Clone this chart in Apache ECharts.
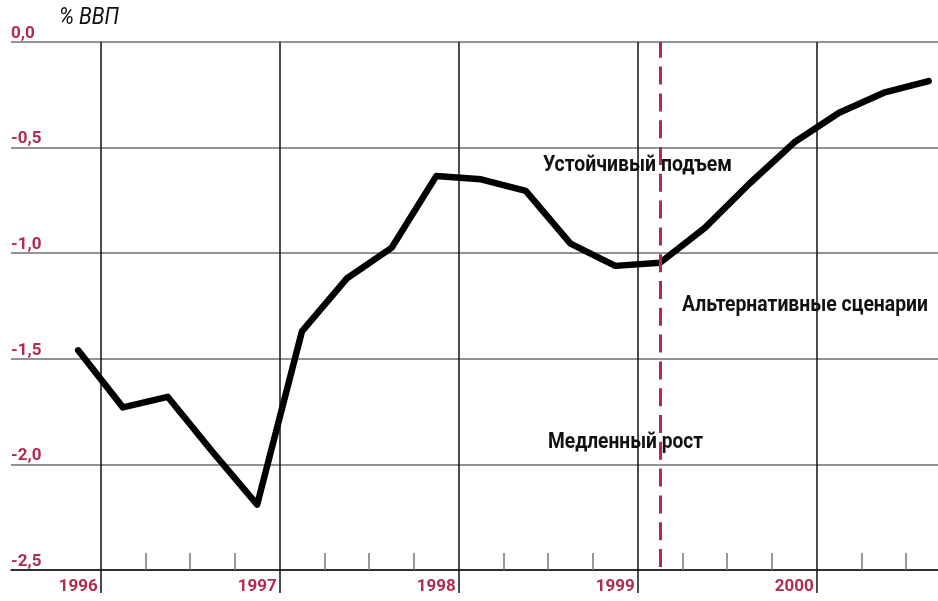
<!DOCTYPE html>
<html>
<head>
<meta charset="utf-8">
<script src="https://cdn.jsdelivr.net/npm/echarts@6/dist/echarts.min.js"></script>
<style>html,body{margin:0;padding:0;background:#fff;overflow:hidden;width:938px;height:601px;}#c{width:951px;height:601px;}</style>
</head>
<body>
<div id="c"></div>
<script>
// Quarterly labels (year shown at first quarter of each year group)
const quarters = ['1996','','','','1997','','','','1998','','','','1999','','','','2000','','',''];
// Budget balance, % of GDP
const values = [-1.46,-1.73,-1.68,-1.94,-2.19,-1.37,-1.12,-0.975,-0.635,-0.65,-0.705,-0.955,-1.06,-1.045,-0.88,-0.67,-0.475,-0.335,-0.24,-0.185];
const yTicks = ['0,0','-0,5','-1,0','-1,5','-2,0','-2,5'];
const scenarioIndex = 13; // dashed separator at this quarter
const annotations = ['Устойчивый подъем','Альтернативные сценарии','Медленный рост'];
const yTitle = '% ВВП';

const RED = '#b12b4d';
const FONT = "Roboto, 'Liberation Sans', sans-serif";

// one padding category before the data
const cats = [''].concat(quarters);
const data = [null].concat(values);
const isYear = i => i >= 2 && (i - 2) % 4 === 0;

// horizontal compression to imitate the condensed typeface
const mctx = document.createElement('canvas').getContext('2d');
function fit(text, font, target) { mctx.font = font; return target / mctx.measureText(text).width; }
function condText(text, x, y, size, weight, style, targetW) {
  const font = style + ' ' + weight + ' ' + size + 'px Roboto';
  return {type: 'text', x: x, y: y, z: 10, scaleX: fit(text, font, targetW), scaleY: 1,
    style: {text: text, align: 'center', verticalAlign: 'middle', fontFamily: FONT, fontWeight: weight, fontStyle: style, fontSize: size, fill: '#111'}};
}

const gridBox = {left: 11, top: 42, bottom: 31, right: 0, containLabel: false};
const chart = echarts.init(document.getElementById('c'), null, {renderer: 'canvas'});
chart.setOption({
  animation: false,
  backgroundColor: '#fff',
  grid: [Object.assign({}, gridBox), Object.assign({}, gridBox)],
  xAxis: [{
    type: 'category', data: cats, boundaryGap: true, position: 'bottom', gridIndex: 0,
    axisLine: {show: true, onZero: false, lineStyle: {color: '#111', width: 1.5}},
    axisTick: {show: true, inside: true, length: 17, interval: (i) => i >= 3 && !isYear(i), lineStyle: {color: '#777', width: 1.5}},
    axisLabel: {show: true, interval: 0, margin: 8, color: RED, fontWeight: 'bold', fontSize: 17, fontFamily: FONT},
    splitLine: {show: false}
  }, {
    type: 'category', data: cats, boundaryGap: true, position: 'bottom', gridIndex: 1,
    axisLine: {show: false, onZero: false},
    axisTick: {show: true, inside: false, length: 23, interval: (i) => isYear(i), lineStyle: {color: '#111', width: 1.5}},
    axisLabel: {show: false},
    splitLine: {show: true, interval: (i) => isYear(i), lineStyle: {color: '#111', width: 1.5}}
  }],
  yAxis: [{
    type: 'value', min: -2.5, max: 0, interval: 0.5, gridIndex: 0,
    axisLine: {show: false}, axisTick: {show: false},
    axisLabel: {
      inside: true, margin: 0, verticalAlign: 'bottom', color: RED, fontWeight: 'bold', fontSize: 17, fontFamily: FONT,
      formatter: (v) => yTicks[Math.round(-v / 0.5)]
    },
    splitLine: {show: true, lineStyle: {color: '#6f6f6f', width: 1.5}}
  }, {
    type: 'value', min: -2.5, max: 0, interval: 0.5, gridIndex: 1, show: false
  }],
  series: [{
    type: 'line', data: data, xAxisIndex: 0, yAxisIndex: 0, symbol: 'none', smooth: false,
    lineStyle: {color: '#000', width: 6.5, cap: 'round', join: 'round'},
    markLine: {
      silent: true, symbol: 'none', label: {show: false},
      lineStyle: {color: RED, width: 3, type: [18, 8.8], dashOffset: 23.8},
      data: [{xAxis: scenarioIndex + 1}]
    },
    z: 3
  }],
  graphic: [
    condText(yTitle, 89, 18.5, 23, 'normal', 'italic', 60),
    condText(annotations[0], 637.5, 165, 22, 'bold', 'normal', 189),
    condText(annotations[1], 805, 305, 22, 'bold', 'normal', 246),
    condText(annotations[2], 625.5, 442.5, 22, 'bold', 'normal', 155)
  ]
});
</script>
</body>
</html>
